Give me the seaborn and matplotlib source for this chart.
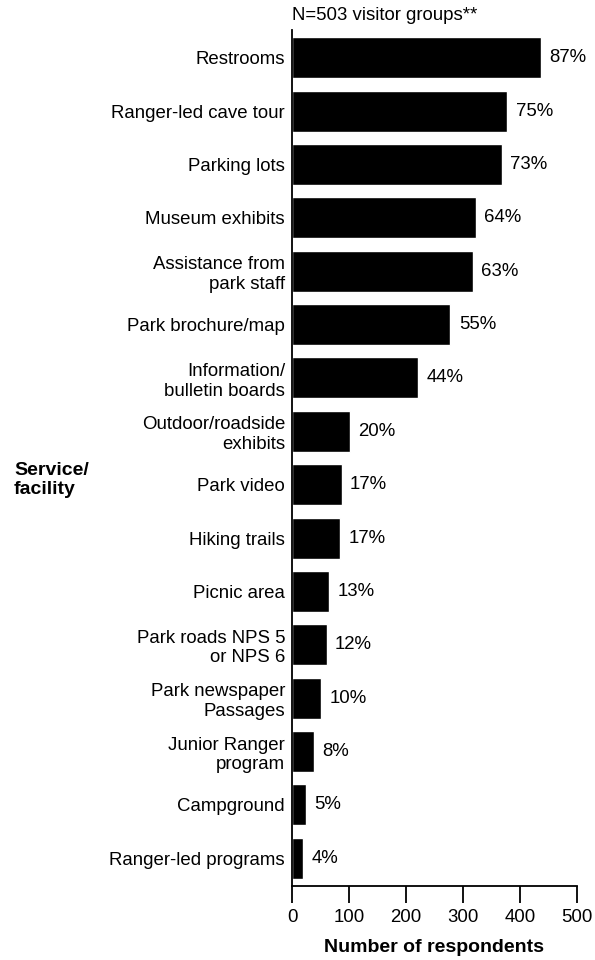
import matplotlib
matplotlib.use("Agg")
import matplotlib.pyplot as plt
import seaborn as sns
import pandas as pd

categories = [
    "Restrooms",
    "Ranger-led cave tour",
    "Parking lots",
    "Museum exhibits",
    "Assistance from\npark staff",
    "Park brochure/map",
    "Information/\nbulletin boards",
    "Outdoor/roadside\nexhibits",
    "Park video",
    "Hiking trails",
    "Picnic area",
    "Park roads NPS 5\nor NPS 6",
    "Park newspaper\nPassages",
    "Junior Ranger\nprogram",
    "Campground",
    "Ranger-led programs",
]
counts = [437, 378, 368, 322, 317, 278, 221, 101, 87, 85, 65, 61, 51, 39, 24, 20]
pct_labels = ["87%", "75%", "73%", "64%", "63%", "55%", "44%", "20%", "17%",
              "17%", "13%", "12%", "10%", "8%", "5%", "4%"]
x_ticks = [0, 100, 200, 300, 400, 500]
title_text = "N=503 visitor groups**"
y_title = "Service/\nfacility"
x_title = "Number of respondents"

sns.set_style("white")
plt.rcParams['font.family'] = ['Liberation Sans', 'DejaVu Sans']
plt.rcParams['text.color'] = 'black'
plt.rcParams['xtick.color'] = 'black'
plt.rcParams['ytick.color'] = 'black'
plt.rcParams['axes.labelcolor'] = 'black'
FS = 13.4

df = pd.DataFrame({"cat": categories, "n": counts})

fig = plt.figure(figsize=(5.95, 9.6), dpi=100)
ax = fig.add_axes([292/595, 74/960, (577-292)/595, 856/960])

sns.barplot(data=df, x="n", y="cat", orient="h", color="black",
            width=0.77, ax=ax, saturation=1)

ax.set_xlim(0, 500)
ax.set_ylim(15.52, -0.52)
ax.set_xticks(x_ticks)
ax.set_xticklabels([str(t) for t in x_ticks], fontsize=FS)
ax.set_yticks(range(len(categories)))
ax.set_yticklabels(categories, fontsize=FS, ha="right", multialignment="right")
ax.tick_params(axis="y", left=False, length=0, pad=5)
ax.tick_params(axis="x", bottom=True, length=12.5, width=1.3, direction="out", pad=4,
               color="black", labelcolor="black")
ax.set_xlabel("")
ax.set_ylabel("")

for s in ["top", "right"]:
    ax.spines[s].set_visible(False)
for s in ["left", "bottom"]:
    ax.spines[s].set_color("black")
    ax.spines[s].set_linewidth(1.3)

for i, (v, lab) in enumerate(zip(counts, pct_labels)):
    ax.annotate(lab, xy=(v, i), xytext=(6, 0), textcoords="offset points",
                ha="left", va="center", fontsize=FS, color="black")

fig.text(292/595, 1 - 15/960, title_text, ha="left", va="center", fontsize=FS)
fig.text(14/595, 1 - 480/960, y_title, ha="left", va="center", fontsize=FS + 0.6,
         fontweight="bold", multialignment="left")
fig.text(434/595, 1 - 947/960, x_title, ha="center", va="center", fontsize=FS + 0.6,
         fontweight="bold")

fig.savefig("out.png", dpi=100)
